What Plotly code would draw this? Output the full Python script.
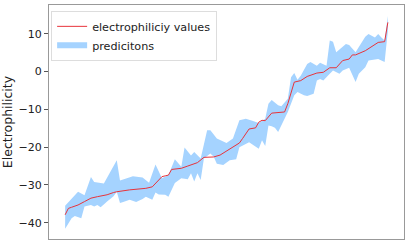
import plotly.graph_objects as go

# measured line (sample index, value)
line_x = [0, 1, 2, 4, 6, 8, 10, 13, 15, 16, 20, 23, 25, 27, 28, 29, 30, 31, 32, 33, 36, 38, 41, 43, 46, 48, 50, 52, 54, 55, 56, 57, 59, 60, 61, 62, 64, 68, 69, 71, 73, 75, 78, 80, 82, 84, 86, 88, 89, 90, 93, 96, 97, 99, 100]
line_y = [-37.9, -36.2, -35.9, -35.3, -34.4, -33.5, -33.1, -32.6, -32.0, -31.8, -31.3, -31.1, -30.9, -30.5, -29.6, -28.9, -27.8, -27.6, -27.4, -25.9, -25.6, -25.0, -24.1, -22.7, -22.6, -22.1, -21.0, -19.9, -18.9, -17.7, -16.5, -15.2, -14.9, -13.4, -12.9, -13.0, -11.0, -10.7, -8.5, -2.8, -2.4, -1.3, -0.4, -0.2, 1.0, 1.0, 2.9, 3.3, 4.4, 4.4, 5.5, 7.3, 7.7, 7.9, 13.0]

# prediction band, upper edge
upper_x = [0, 4, 6, 8, 9, 12, 16, 17, 21, 24, 26, 28, 30, 32, 34, 36, 37, 39, 40, 42, 44, 45, 47, 50, 52, 54, 56, 58, 60, 62, 63, 64, 66, 67, 69, 70, 71, 72, 73, 75, 76, 78, 79, 81, 82, 83, 84, 85, 87, 88, 90, 91, 93, 94, 96, 97, 98, 99, 100]
upper_y = [-35.5, -31.8, -32.7, -27.9, -29.2, -29.6, -23.5, -28.8, -27.7, -28.0, -29.4, -24.6, -28.2, -27.4, -23.2, -25.2, -20.1, -22.2, -21.3, -23.0, -15.5, -15.5, -17.7, -18.9, -17.7, -12.9, -12.5, -13.0, -13.6, -12.5, -8.5, -7.5, -8.9, -9.2, -7.2, -1.5, -0.4, -2.2, -1.1, 2.0, 2.5, 1.5, 2.3, 1.5, 8.2, 7.9, 5.1, 5.8, 7.3, 7.0, 5.1, 6.5, 9.2, 9.9, 9.0, 9.9, 9.0, 8.2, 14.7]

# prediction band, lower edge
lower_x = [0, 2, 3, 5, 6, 8, 9, 10, 11, 13, 15, 16, 17, 18, 20, 22, 24, 25, 27, 28, 29, 31, 32, 34, 36, 38, 39, 40, 41, 42, 43, 45, 46, 47, 49, 51, 53, 54, 57, 60, 61, 62, 63, 64, 65, 66, 69, 71, 72, 74, 75, 77, 78, 79, 80, 82, 83, 85, 86, 88, 90, 91, 93, 94, 97, 99, 100]
lower_y = [-41.6, -38.8, -38.2, -38.8, -35.7, -35.3, -35.7, -35.3, -35.9, -34.4, -33.0, -31.8, -34.8, -34.5, -33.9, -34.5, -33.7, -33.1, -33.9, -32.0, -32.5, -32.6, -33.1, -29.5, -28.2, -28.5, -26.9, -29.1, -26.9, -28.7, -23.0, -21.7, -22.5, -24.4, -24.7, -23.5, -23.2, -20.0, -18.7, -20.4, -18.2, -19.7, -14.3, -14.5, -14.9, -16.0, -10.7, -6.3, -5.4, -6.3, -6.5, -5.9, -2.4, -2.0, -2.4, -0.6, 0.3, -0.6, 0.3, 1.0, -2.8, -0.6, 1.1, 2.9, 3.3, 2.5, 10.8]

y_ticks = [-40, -30, -20, -10, 0, 10]

fig = go.Figure()
fig.add_trace(go.Scatter(
    x=upper_x + lower_x[::-1],
    y=upper_y + lower_y[::-1],
    fill="toself", fillcolor="#a5d3ff", mode="none",
    name="predicitons", hoverinfo="skip",
))
fig.add_trace(go.Scatter(
    x=line_x, y=line_y, mode="lines",
    line=dict(color="#e8333a", width=1),
    name="electrophiliciy values",
))

fig.update_layout(
    width=409, height=244,
    margin=dict(l=43, r=4, t=4, b=5),
    paper_bgcolor="white", plot_bgcolor="white",
    font=dict(family="DejaVu Sans", size=11, color="#222"),
    legend=dict(
        x=0.006, y=0.975, xanchor="left", yanchor="top",
        bgcolor="rgba(255,255,255,0.9)", bordercolor="#dddddd", borderwidth=1,
        font=dict(size=11.2), traceorder="reversed",
        itemwidth=30, tracegroupgap=0,
    ),
    showlegend=True,
)
fig.update_xaxes(
    range=[-5, 105], showgrid=False, zeroline=False, showticklabels=False,
    ticks="", showline=True, mirror=True, linecolor="#999999", linewidth=1,
)
fig.update_yaxes(
    range=[-44.3, 17.6], showgrid=False, zeroline=False,
    tickvals=y_ticks, ticktext=["\u221240", "\u221230", "\u221220", "\u221210", "0", "10"],
    ticks="outside", ticklen=4, tickcolor="#555", tickfont=dict(size=11),
    showline=True, mirror=True, linecolor="#999999", linewidth=1,
    title=dict(text="Electrophilicity", font=dict(size=12.5), standoff=6),
)

fig.write_html("out.html", config={"displayModeBar": False},
               post_script="document.body.style.margin='0';")
